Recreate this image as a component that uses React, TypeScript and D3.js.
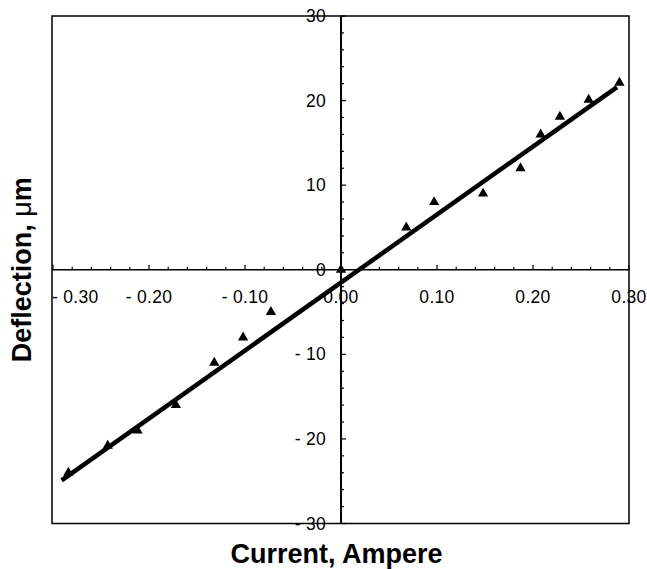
import React from 'react';
import * as d3 from 'd3';

// measured points (current in A, deflection in um)
const currents = [-0.284, -0.243, -0.212, -0.172, -0.132, -0.102, -0.073, 0.0, 0.068, 0.097, 0.148, 0.187, 0.208, 0.228, 0.258, 0.29];
const deflections = [-24.0, -20.8, -19.0, -16.0, -11.0, -8.0, -5.0, 0.0, 5.0, 8.0, 9.0, 12.0, 16.0, 18.1, 20.1, 22.1];

// least squares line, end points
const fitX = [-0.291, 0.2875];
const fitY = [-24.9, 21.6];

const xMajor = [-0.3, -0.2, -0.1, 0.0, 0.1, 0.2, 0.3];
const xLabels = ['- 0.30', '- 0.20', '- 0.10', '0.00', '0.10', '0.20', '0.30'];
const yMajor = [-30, -20, -10, 0, 10, 20, 30];
const yLabels = ['- 30', '- 20', '- 10', '0', '10', '20', '30'];

const W = 647;
const H = 569;
const font = '"Liberation Sans", Arial, Helvetica, sans-serif';

export default function App() {
  const left = 52, right = 629, top = 16, bottom = 523.5;
  const x = d3.scaleLinear().domain([-0.3, 0.3]).range([53, right]);
  const y = d3.scaleLinear().domain([-30, 30]).range([bottom, top]);
  const x0 = x(0);
  const y0 = y(0);

  const xMinor = d3.range(-15, 16).map(i => i * 0.02);
  const yMinor = d3.range(-15, 16).map(i => i * 2);

  const line = d3.line<number>()
    .x(d => x(fitX[d]))
    .y(d => y(fitY[d]));

  const tri = d3.symbol().type(d3.symbolTriangle).size(46);

  return (
    <svg width={W} height={H} style={{ position: 'absolute', left: 0, top: 0, background: '#fff' }}>
      <rect x={left} y={top} width={right - left} height={bottom - top} fill="none" stroke="#000" strokeWidth={1.5} />

      {/* x axis through zero */}
      <line x1={left} x2={right} y1={y0} y2={y0} stroke="#000" strokeWidth={1.6} />
      {xMinor.map((v, i) => {
        const major = Math.abs(i - 15) % 5 === 0;
        return <line key={'xt' + i} x1={x(v)} x2={x(v)} y1={y0} y2={y0 - (major ? 5 : 3)} stroke="#000" strokeWidth={1.2} />;
      })}
      {xMajor.map((v, i) => {
        const first = i === 0;
        return (
          <text key={'xl' + i} x={first ? left : x(v)} y={y0 + 33} textAnchor={first ? 'start' : 'middle'}
            fontFamily={font} fontSize={17.5} letterSpacing={0.3} fill="#000">{xLabels[i]}</text>
        );
      })}

      {/* y axis through zero */}
      <line x1={x0} x2={x0} y1={top} y2={bottom} stroke="#000" strokeWidth={2} />
      {yMinor.map((v, i) => {
        const major = Math.abs(i - 15) % 5 === 0;
        return <line key={'yt' + i} x1={x0} x2={x0 + (major ? 5 : 3)} y1={y(v)} y2={y(v)} stroke="#000" strokeWidth={1.2} />;
      })}
      {yMajor.map((v, i) => (
        <text key={'yl' + i} x={x0 - 15} y={y(v)} dy="0.35em" textAnchor="end"
          fontFamily={font} fontSize={17.5} letterSpacing={0.3} fill="#000">{yLabels[i]}</text>
      ))}

      {/* fit */}
      <path d={line([0, 1]) || ''} fill="none" stroke="#000" strokeWidth={4.5} strokeLinecap="butt" />

      {/* data */}
      {currents.map((c, i) => (
        <path key={'p' + i} d={tri() || ''} transform={`translate(${x(c)},${y(deflections[i])})`} fill="#000" />
      ))}

      <text x={(left + right) / 2 - 4} y={563} textAnchor="middle" fontFamily={font} fontWeight="bold" fontSize={27} fill="#000">
        Current, Ampere
      </text>
      <text transform={`translate(31,${(top + bottom) / 2}) rotate(-90)`} textAnchor="middle" fontFamily={font} fontWeight="bold" fontSize={27} fill="#000">
        Deflection, <tspan fontWeight="normal">μ</tspan>m
      </text>
    </svg>
  );
}
